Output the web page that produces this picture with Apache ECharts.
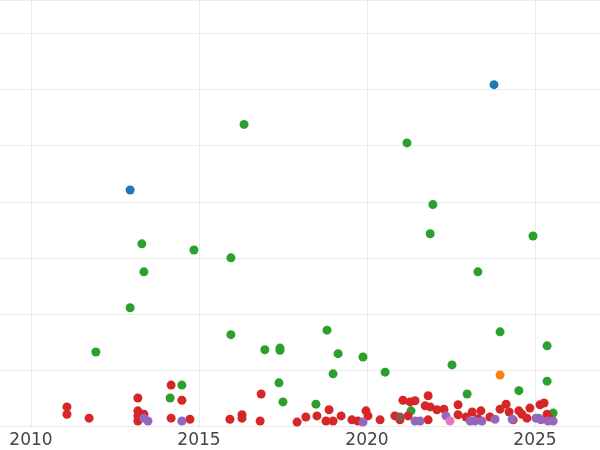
<!DOCTYPE html>
<html><head><meta charset="utf-8">
<script src="https://cdn.jsdelivr.net/npm/echarts@6/dist/echarts.min.js"></script>
</head><body style="margin:0">
<div id="main" style="width:600px;height:450px"></div>
<script>
var blue = [[2012.95, 4.21], [2023.78, 6.09]];
var orange = [[2023.96, 0.91]];
var green = [[2011.93, 1.32], [2012.95, 2.11], [2013.3, 3.25], [2013.36, 2.75], [2014.14, 0.5], [2014.49, 0.73],
  [2014.85, 3.14], [2015.95, 3.0], [2015.95, 1.63], [2016.34, 5.38], [2016.96, 1.36], [2017.41, 1.39], [2017.41, 1.35],
  [2017.38, 0.77], [2017.5, 0.43], [2018.48, 0.39], [2018.81, 1.71], [2018.99, 0.93], [2019.14, 1.29], [2019.88, 1.23],
  [2020.54, 0.96], [2021.19, 5.05], [2021.31, 0.27], [2021.96, 3.95], [2021.88, 3.43], [2022.53, 1.09], [2022.98, 0.57],
  [2023.3, 2.75], [2023.96, 1.68], [2024.52, 0.63], [2024.94, 3.39], [2025.36, 1.43], [2025.36, 0.8], [2025.54, 0.23],
  [2025.1, 0.14]];
var red = [[2011.07, 0.34], [2011.07, 0.21], [2011.73, 0.14], [2013.18, 0.5], [2013.18, 0.27], [2013.18, 0.18],
  [2013.18, 0.09], [2013.36, 0.21], [2014.17, 0.73], [2014.17, 0.14], [2014.49, 0.46], [2014.73, 0.12], [2015.92, 0.12],
  [2016.28, 0.2], [2016.28, 0.14], [2016.85, 0.57], [2016.82, 0.09], [2017.92, 0.07], [2018.18, 0.16], [2018.51, 0.18],
  [2018.87, 0.29], [2018.78, 0.09], [2018.99, 0.09], [2019.23, 0.18], [2019.55, 0.11], [2019.73, 0.09], [2019.97, 0.27],
  [2020.03, 0.18], [2020.39, 0.11], [2020.83, 0.18], [2021.07, 0.46], [2020.98, 0.11], [2021.22, 0.18], [2021.28, 0.43],
  [2021.43, 0.45], [2021.73, 0.36], [2021.82, 0.54], [2021.88, 0.34], [2021.82, 0.11], [2022.08, 0.29], [2022.29, 0.3],
  [2022.71, 0.38], [2022.71, 0.2], [2022.95, 0.16], [2023.13, 0.25], [2023.3, 0.13], [2023.39, 0.27], [2023.66, 0.16],
  [2023.96, 0.3], [2024.14, 0.39], [2024.23, 0.25], [2024.35, 0.11], [2024.52, 0.27], [2024.61, 0.21], [2024.76, 0.14],
  [2024.85, 0.32], [2025.15, 0.38], [2025.27, 0.41], [2025.36, 0.21], [2025.42, 0.14]];
var purple = [[2013.36, 0.14], [2013.48, 0.09], [2014.49, 0.09], [2019.88, 0.07], [2021.43, 0.09], [2021.58, 0.09],
  [2022.35, 0.18], [2023.07, 0.09], [2023.21, 0.09], [2023.42, 0.09], [2023.81, 0.12], [2024.32, 0.12], [2025.03, 0.14],
  [2025.18, 0.11], [2025.39, 0.09], [2025.54, 0.09]];
var pink = [[2022.47, 0.09]];
var brown = [[2020.98, 0.16]];

function s(data, color) {
  return { type: "scatter", data: data, symbolSize: 9, itemStyle: { color: color, opacity: 1 }, silent: true };
}

var myChart = echarts.init(document.getElementById("main"));
myChart.setOption({
  animation: false,
  grid: { left: -137, right: -103, top: 0, bottom: 24, containLabel: false, outerBoundsMode: "none" },
  xAxis: {
    type: "value", min: 2005, max: 2030, interval: 5,
    axisLine: { show: false }, axisTick: { show: false },
    axisLabel: { color: "#444", fontSize: 17, fontFamily: "DejaVu Sans", margin: 6,
      formatter: function (v) { return String(v); } },
    splitLine: { lineStyle: { color: "#ebebeb" } }
  },
  yAxis: {
    type: "value", min: 0, max: 7.6, interval: 1,
    axisLine: { show: false }, axisTick: { show: false }, axisLabel: { show: false },
    splitLine: { lineStyle: { color: "#ebebeb" } }
  },
  series: [
    s(blue, "#1f77b4"), s(orange, "#ff7f0e"), s(green, "#2ca02c"), s(red, "#d62728"),
    s(purple, "#9467bd"), s(pink, "#e377c2"), s(brown, "#8c564b")
  ]
});
</script>
</body></html>
